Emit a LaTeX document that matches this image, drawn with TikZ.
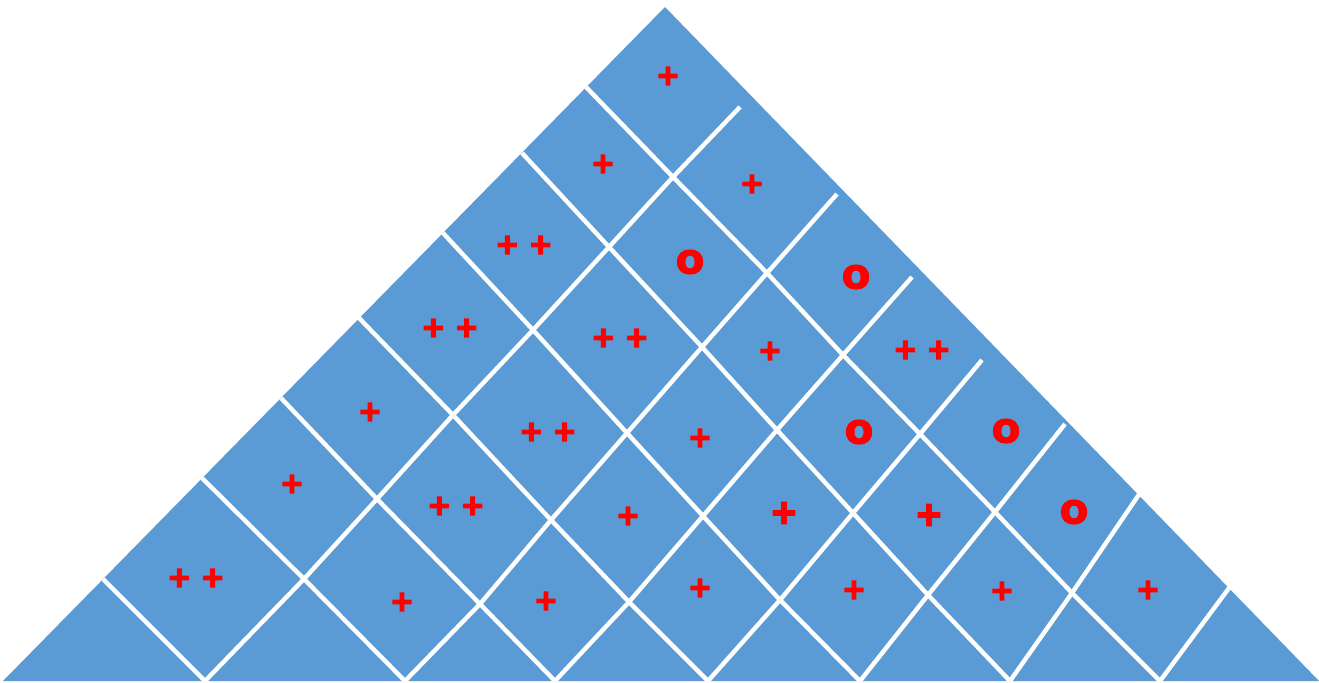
\documentclass[tikz,border=0pt]{standalone}
\usepackage{fontspec}
\newfontfamily\plusfont{DejaVu Sans Bold}[FakeBold=6]
\newfontfamily\ringfont{DejaVu Sans Bold}[FakeBold=2]
\usepackage{tikz}
\usetikzlibrary{calc}
\usepackage{xcolor}
\definecolor{wedgeblue}{HTML}{5B9BD5}
\definecolor{markred}{HTML}{FF0000}

\begin{document}
\begin{tikzpicture}[
      x=0.02cm, y=-0.02cm,
      wedge/.style={fill=wedgeblue},
      gridline/.style={draw=white, line width=2.5pt},
      plusmark/.style={text=markred, inner sep=0pt,
                       font=\plusfont\fontsize{16}{16}\selectfont},
      bigplus/.style={plusmark, font=\plusfont\fontsize{19}{19}\selectfont},
      ringmark/.style={text=markred, inner sep=0pt,
                       font=\ringfont\fontsize{24}{24}\selectfont}
    ]
      \useasboundingbox (0,0) rectangle (1319,683);

      \fill[wedge] (665,7) -- (1319,681) -- (3,681) -- cycle;

      % crossings of the grid lines
      \foreach \i/\j/\x/\y in {1/1/673/177, 2/1/609/247, 3/1/533/330, 4/1/453/415,
                               5/1/377/499, 6/1/304/579,
                               1/2/767/273, 2/2/702/347, 3/2/627/433, 4/2/551/520, 5/2/480/604,
                               1/3/843/355, 2/3/777/430, 3/3/703/516, 4/3/629/602,
                               1/4/920/434, 2/4/853/513, 3/4/780/600,
                               1/5/995/512, 2/5/928/595,
                               1/6/1072/593}
        \coordinate (p\i\j) at (\x,\y);
      \foreach \k/\x in {1/205, 2/405, 3/555, 4/708, 5/860, 6/1010, 7/1160}
        \coordinate (b\k) at (\x,681);
      \foreach \i/\x/\y in {1/586/87, 2/522/153, 3/443/233, 4/359/318,
                            5/281/398, 6/202/478, 7/103/579}
        \coordinate (s\i) at (\x,\y);
      \foreach \j/\x/\y in {1/740/107, 2/837/194, 3/912/277, 4/982/360,
                            5/1065/424, 6/1142/490, 7/1232/584}
        \coordinate (t\j) at (\x,\y);

      \draw[gridline] (s1) -- (p11) -- (p12) -- (p13) -- (p14) -- (p15) -- (p16) -- (b7);
      \draw[gridline] (s2) -- (p21) -- (p22) -- (p23) -- (p24) -- (p25) -- (b6);
      \draw[gridline] (s3) -- (p31) -- (p32) -- (p33) -- (p34) -- (b5);
      \draw[gridline] (s4) -- (p41) -- (p42) -- (p43) -- (b4);
      \draw[gridline] (s5) -- (p51) -- (p52) -- (b3);
      \draw[gridline] (s6) -- (p61) -- (b2);
      \draw[gridline] (s7) -- (b1);

      \draw[gridline] (b1) -- (p61) -- (p51) -- (p41) -- (p31) -- (p21) -- (p11) -- (t1);
      \draw[gridline] (b2) -- (p52) -- (p42) -- (p32) -- (p22) -- (p12) -- (t2);
      \draw[gridline] (b3) -- (p43) -- (p33) -- (p23) -- (p13) -- (t3);
      \draw[gridline] (b4) -- (p34) -- (p24) -- (p14) -- (t4);
      \draw[gridline] (b5) -- (p25) -- (p15) -- (t5);
      \draw[gridline] (b6) -- (p16) -- (t6);
      \draw[gridline] (b7) -- (t7);

      % marks
      \foreach \x/\y [count=\n] in {668/76, 603/164, 752/184, 770/351, 370/412, 700/438,
                                   292/484, 628/516, 402/602, 546/601, 700/588,
                                   854/590, 1002/591, 1148/590}
        \node[plusmark] (plus\n) at (\x,\y) {+};
      \node[bigplus] (plus15) at (784,513) {+};
      \node[bigplus] (plus16) at (929,515) {+};
      \foreach \x/\y [count=\n] in {524/245, 450/328, 620/338, 922/350,
                                   548/432, 456/506, 196/578}
        \node[plusmark] (pair\n) at (\x,\y) {+ +};
      \foreach \x/\y [count=\n] in {690/262, 856/277, 859/432, 1006/431, 1074/512}
        \node[ringmark] (ring\n) at (\x,\y) {o};
    \end{tikzpicture}
\end{document}
